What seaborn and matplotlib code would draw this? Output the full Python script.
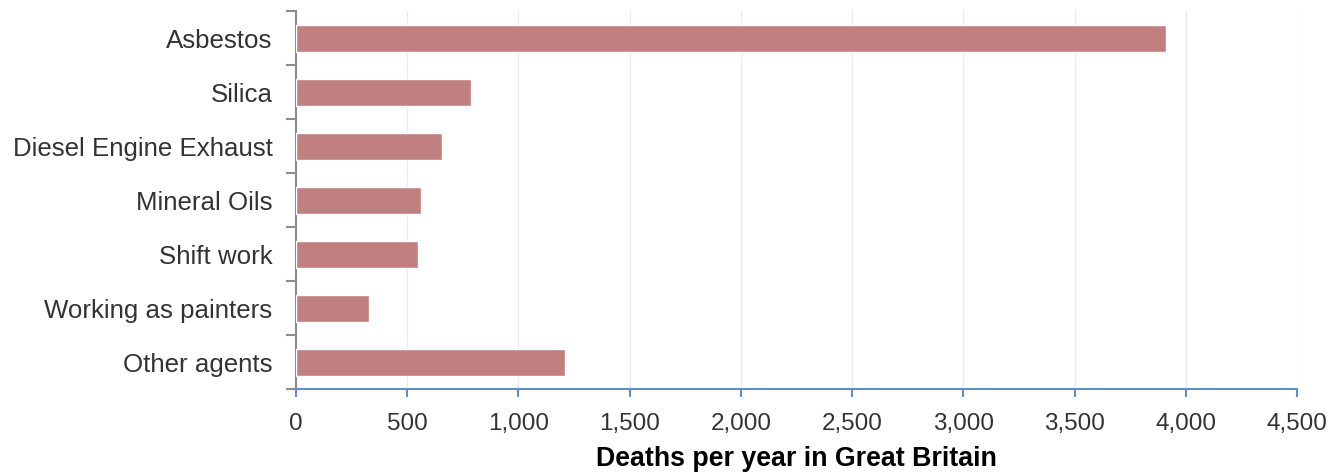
import matplotlib
matplotlib.use("Agg")
import matplotlib.pyplot as plt
import seaborn as sns
import pandas as pd
import numpy as np
from matplotlib.ticker import FuncFormatter, FixedLocator

categories = ["Asbestos", "Silica", "Diesel Engine Exhaust", "Mineral Oils",
              "Shift work", "Working as painters", "Other agents"]
deaths = [3910, 785, 655, 560, 550, 330, 1210]

df = pd.DataFrame({"category": categories, "deaths": deaths})

sns.set_theme(style="white")
plt.rcParams["font.family"] = ["Liberation Sans", "DejaVu Sans"]

fig = plt.figure(figsize=(13.35, 4.72), dpi=100)
ax = fig.add_axes([296 / 1335, 1 - 389 / 472, (1297 - 296) / 1335, (389 - 11) / 472])

sns.barplot(data=df, x="deaths", y="category", orient="h", color="#c08080",
            saturation=1, width=0.5, ax=ax, zorder=3)

ax.set_xlim(0, 4500)
ax.set_ylim(6.5, -0.5)
ax.set_xticks(np.arange(0, 4501, 500))
ax.xaxis.set_major_formatter(FuncFormatter(lambda v, p: f"{int(v):,}"))
ax.grid(axis="x", color="#ebebeb", linewidth=1, zorder=0)
ax.grid(axis="y", visible=False)
ax.set_axisbelow(True)

for s in ["top", "right"]:
    ax.spines[s].set_visible(False)
ax.spines["left"].set_color("#8c8c8c")
ax.spines["left"].set_linewidth(1.5)
ax.spines["bottom"].set_color("#5b8fd0")
ax.spines["bottom"].set_linewidth(1.5)

ax.yaxis.set_minor_locator(FixedLocator(np.arange(-0.5, 7, 1)))
ax.tick_params(axis="y", which="major", length=0, pad=17, labelsize=18.6, labelcolor="#333333")
ax.tick_params(axis="y", which="minor", length=7, width=1.5, color="#8c8c8c", direction="out", left=True)
ax.tick_params(axis="x", which="major", length=6, width=1.5, color="#5b8fd0", direction="out",
               bottom=True, pad=11, labelsize=17.5, labelcolor="#333333")

ax.set_ylabel("")
ax.set_xlabel("Deaths per year in Great Britain", fontsize=19.3, fontweight="bold",
              color="black", labelpad=8)

fig.savefig("out.png", dpi=100)
